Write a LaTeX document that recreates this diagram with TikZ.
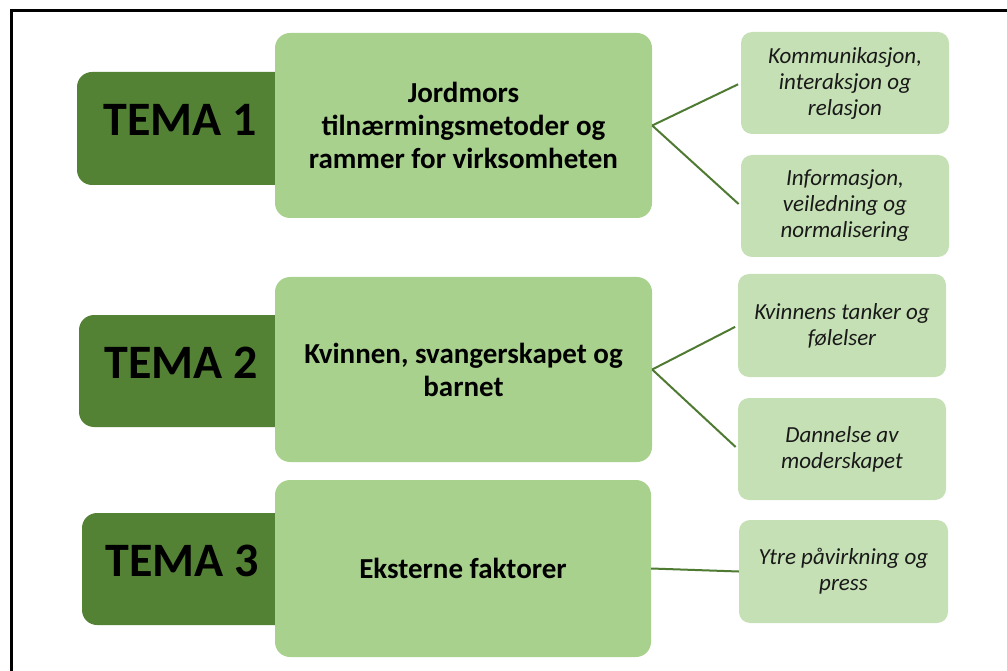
\documentclass[tikz,border=0pt]{standalone}
\usepackage{fontspec}
\setmainfont{Carlito}
\definecolor{darkgreen}{HTML}{548235}
\definecolor{midgreen}{HTML}{A9D18E}
\definecolor{palegreen}{HTML}{C5E0B4}
\definecolor{linegreen}{HTML}{4F7A32}
\tikzset{
  temabox/.style={fill=darkgreen, rounded corners=15pt, inner sep=0pt, anchor=center},
  tematext/.style={font=\fontsize{48}{52}\selectfont\bfseries, text=black, inner sep=0pt},
  mainbox/.style={fill=midgreen, rounded corners=15pt, inner sep=0pt, align=center,
    font=\fontsize{29}{33}\selectfont\bfseries, text=black},
  subbox/.style={fill=palegreen, rounded corners=11pt, inner sep=0pt, align=center,
    font=\fontsize{23}{26}\selectfont\itshape, text=black!90},
  conn/.style={draw=linegreen, line width=2pt},
  frame/.style={draw=black, line width=3pt}
}
\begin{document}
\begin{tikzpicture}[x=1pt,y=-1pt]
\useasboundingbox (0,0) rectangle (1007,671);
% frame
\coordinate (fbl) at (11,680);
\coordinate (ftl) at (11,11);
\coordinate (ftr) at (1015,11);
\draw[frame] (fbl) -- (ftl) -- (ftr);
% dark TEMA boxes
\node[temabox, minimum width=223pt, minimum height=113pt] (d1) at (188.5,128.5) {};
\node[temabox, minimum width=221pt, minimum height=112pt] (d2) at (189.5,371) {};
\node[temabox, minimum width=218pt, minimum height=112pt] (d3) at (191,569) {};
% main boxes
\node[mainbox, minimum width=377pt, minimum height=185pt] (m1) at (463.5,125.5)
  {Jordmors\\tilnærmingsmetoder og\\rammer for virksomheten};
\node[mainbox, minimum width=377pt, minimum height=185pt] (m2) at (463.5,369.5)
  {Kvinnen, svangerskapet og\\barnet};
\node[mainbox, minimum width=376pt, minimum height=177pt] (m3) at (463,568.5)
  {Eksterne faktorer};
% TEMA labels
\node[tematext] (t1) at (180,120) {TEMA 1};
\node[tematext] (t2) at (181,363) {TEMA 2};
\node[tematext] (t3) at (182,561) {TEMA 3};
% sub boxes
\node[subbox, minimum width=208pt, minimum height=102pt] (s1) at (845,83)
  {Kommunikasjon,\\interaksjon og\\relasjon};
\node[subbox, minimum width=208pt, minimum height=102pt] (s2) at (845,206)
  {Informasjon,\\veiledning og\\normalisering};
\node[subbox, minimum width=208pt, minimum height=103pt] (s3) at (842,325.5)
  {Kvinnens tanker og\\følelser};
\node[subbox, minimum width=208pt, minimum height=102pt] (s4) at (842,449)
  {Dannelse av\\moderskapet};
\node[subbox, minimum width=209pt, minimum height=103pt] (s5) at (843.5,571.5)
  {Ytre påvirkning og\\press};
% connectors
\draw[conn, shorten >=3pt] (m1.east) -- (s1.west);
\draw[conn, shorten >=3pt] (m1.east) -- (s2.west);
\draw[conn, shorten >=3pt] (m2.east) -- (s3.west);
\draw[conn, shorten >=3pt] (m2.east) -- (s4.west);
\draw[conn] (m3.east) -- (s5.west);
\end{tikzpicture}
\end{document}
